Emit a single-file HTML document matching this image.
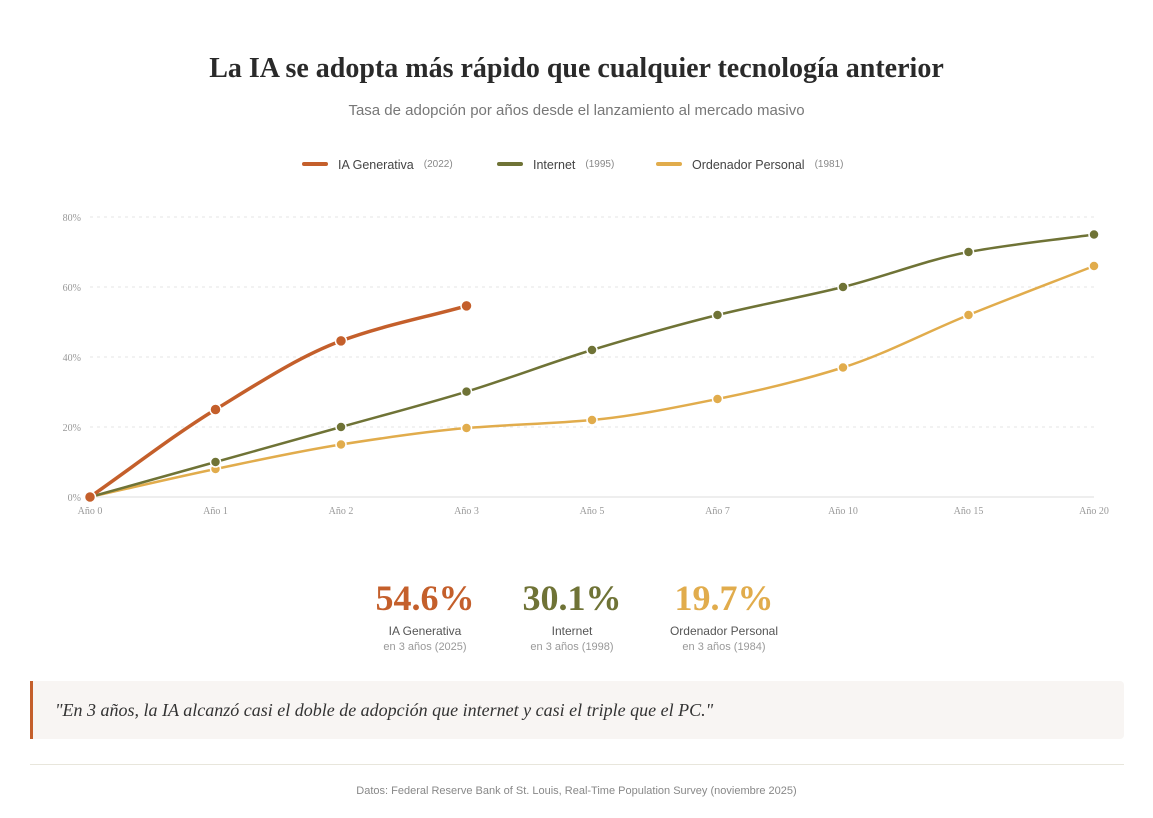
<!DOCTYPE html>
<html><head><meta charset="utf-8"><style>
body{margin:0;width:1153px;height:818px;background:#fff;font-family:"Liberation Sans",sans-serif;position:relative;overflow:hidden}
.t{position:absolute;left:0;width:1153px;text-align:center}
.stat{position:absolute;width:150px;text-align:center}
.stat .v{font-family:"Liberation Serif",serif;font-weight:bold;font-size:36px;line-height:40px}
.stat .l{font-size:12px;color:#555;margin-top:6px}
.stat .s{font-size:11px;color:#999;margin-top:3px}
</style></head><body>
<div class="t" style="top:53px;font-family:'Liberation Serif',serif;font-weight:bold;font-size:28px;color:#2a2a2a">La IA se adopta más rápido que cualquier tecnología anterior</div>
<div class="t" style="top:102px;font-size:15px;color:#777">Tasa de adopción por años desde el lanzamiento al mercado masivo</div>
<svg id="c" width="1153" height="540" style="position:absolute;left:0;top:0"></svg>
<div class="stat" style="left:350px;top:578px"><div class="v" style="color:#c45f2b">54.6%</div><div class="l">IA Generativa</div><div class="s">en 3 años (2025)</div></div>
<div class="stat" style="left:497px;top:578px"><div class="v" style="color:#6f7336">30.1%</div><div class="l">Internet</div><div class="s">en 3 años (1998)</div></div>
<div class="stat" style="left:649px;top:578px"><div class="v" style="color:#e1ac4c">19.7%</div><div class="l">Ordenador Personal</div><div class="s">en 3 años (1984)</div></div>
<div style="position:absolute;left:30px;top:681px;width:1094px;height:58px;background:#f8f5f3;border-left:3px solid #c45f2b;border-radius:0 4px 4px 0;box-sizing:border-box;padding-left:22px;line-height:58px;font-family:'Liberation Serif',serif;font-style:italic;font-size:18px;color:#333">"En 3 años, la IA alcanzó casi el doble de adopción que internet y casi el triple que el PC."</div>
<div style="position:absolute;left:30px;top:764px;width:1094px;height:1px;background:#e8e6dc"></div>
<div class="t" style="top:785px;font-size:11px;color:#888">Datos: Federal Reserve Bank of St. Louis, Real-Time Population Survey (noviembre 2025)</div>
<script>
const categories=["Año 0","Año 1","Año 2","Año 3","Año 5","Año 7","Año 10","Año 15","Año 20"];
const iaValues=[0,25,44.6,54.6];
const internetValues=[0,10,20,30.1,42,52,60,70,75];
const pcValues=[0,8,15,19.7,22,28,37,52,66];
const yTicks=[0,20,40,60,80];
const NS="http://www.w3.org/2000/svg";
const svg=document.getElementById('c');
const x0=90,x1=1094,y0=497,ppu=3.5;
const xs=i=>x0+i*(x1-x0)/(categories.length-1);
const ys=v=>y0-v*ppu;
function el(t,a){const e=document.createElementNS(NS,t);for(const k in a)e.setAttribute(k,a[k]);svg.appendChild(e);return e;}
yTicks.forEach(v=>{
 const g=el('line',{x1:x0,x2:x1,y1:ys(v),y2:ys(v),stroke:v?'#e6e6e6':'#ddd','stroke-dasharray':v?'3,4':'none','stroke-width':1});
 
 
 const t=el('text',{x:81,y:ys(v)+4,'text-anchor':'end','font-size':10,fill:'#999','font-family':'Liberation Serif,serif'});
 t.textContent=v+'%';
 
 
});
categories.forEach((c,i)=>{
 const t=el('text',{x:xs(i),y:514,'text-anchor':'middle','font-size':10,fill:'#999','font-family':'Liberation Serif,serif'});
 t.textContent=c;
 
 
});
function mono(pts){
 const n=pts.length;if(n<2)return'';
 const d=[],m=[];
 for(let i=0;i<n-1;i++)d.push((pts[i+1][1]-pts[i][1])/(pts[i+1][0]-pts[i][0]));
 for(let i=0;i<n;i++){
  if(i==0)m.push(d[0]);else if(i==n-1)m.push(d[n-2]);
  else m.push(d[i-1]*d[i]<=0?0:2/(1/d[i-1]+1/d[i]));
 }
 let p='M'+pts[0][0]+','+pts[0][1];
 for(let i=0;i<n-1;i++){
  const h=(pts[i+1][0]-pts[i][0])/3;
  p+=' C'+(pts[i][0]+h)+','+(pts[i][1]+m[i]*h)+' '+(pts[i+1][0]-h)+','+(pts[i+1][1]-m[i+1]*h)+' '+pts[i+1][0]+','+pts[i+1][1];
 }
 return p;
}
function series(vals,col,w,r,name){
 const pts=vals.map((v,i)=>[xs(i),ys(v)]);
 const p=el('path',{d:mono(pts),fill:'none',stroke:col,'stroke-width':w,'stroke-linecap':'round'});
 
 
 pts.forEach(q=>{
  const c=el('circle',{cx:q[0],cy:q[1],r:r,fill:col,stroke:'#fff','stroke-width':1.5});
  
  
 });
}
series(pcValues,'#e1ac4c',2.5,5,'pc');
series(internetValues,'#6f7336',2.5,5,'internet');
series(iaValues,'#c45f2b',3.5,5.5,'ia');
const leg=[['IA Generativa','(2022)','#c45f2b',304],['Internet','(1995)','#6f7336',499],['Ordenador Personal','(1981)','#e1ac4c',658]];
leg.forEach(l=>{
 const ln=el('line',{x1:l[3],x2:l[3]+22,y1:164,y2:164,stroke:l[2],'stroke-width':4,'stroke-linecap':'round'});
 
 
 const t=el('text',{x:l[3]+34,y:169,'font-size':12.5,fill:'#444'});
 t.textContent=l[0];
 
 
 const w=t.getComputedTextLength();
 const y=el('text',{x:l[3]+34+w+10,y:167,'font-size':10,fill:'#888'});
 y.textContent=l[1];
 
 
});
</script>
</body></html>
